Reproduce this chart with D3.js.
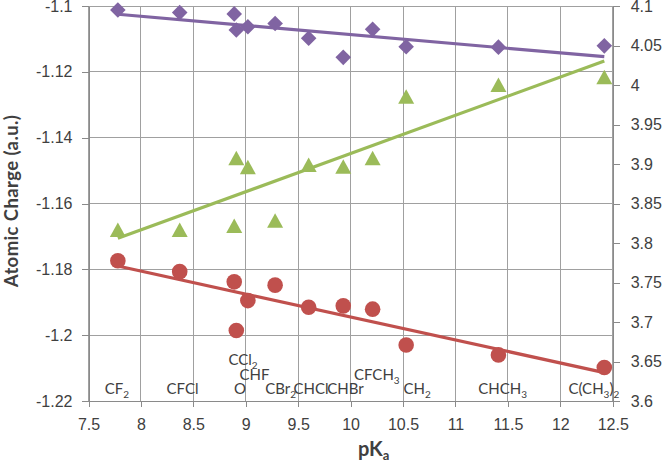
<!DOCTYPE html>
<html>
<head>
<meta charset="utf-8">
<script src="https://cdn.jsdelivr.net/npm/d3@7"></script>
<style>
  html, body { margin: 0; padding: 0; background: #fff; }
  svg { display: block; font-family: Lato, "Open Sans", sans-serif; }
</style>
</head>
<body>
<svg id="chart" width="666" height="462"></svg>
<script>
// ---- data ----
const pKa = [7.78, 8.37, 8.89, 8.91, 9.02, 9.28, 9.60, 9.93, 10.21, 10.53, 11.41, 12.42];
const purpleCharge = [-1.1012, -1.1020, -1.1024, -1.1073, -1.1063, -1.1053, -1.1098, -1.1156, -1.1071, -1.1124, -1.1125, -1.1121];
const redCharge = [-1.1774, -1.1807, -1.1838, -1.1986, -1.1895, -1.1848, -1.1915, -1.1911, -1.1921, -1.2030, -1.2060, -1.2098];
const greenValue = [3.8165, 3.8165, 3.8215, 3.9072, 3.8958, 3.8282, 3.8987, 3.8966, 3.9072, 3.9852, 4.0000, 4.0097];

const labelNames = ["CF_2", "CFCl", "CCl_2", "O", "CHF", "CBr_2", "CHCl", "CHBr", "CFCH_3", "CH_2", "CHCH_3", "C(CH_3)_2"];
const labelPKa = [7.772, 8.397, 8.974, 8.946, 9.084, 9.332, 9.623, 9.952, 10.25, 10.635, 11.45, 12.32];
const labelCharge = [-1.2179, -1.2179, -1.2091, -1.2179, -1.2135, -1.2179, -1.2179, -1.2179, -1.2135, -1.2179, -1.2179, -1.2179];

const xTicks = [7.5, 8, 8.5, 9, 9.5, 10, 10.5, 11, 11.5, 12, 12.5];
const leftTicks = [-1.22, -1.2, -1.18, -1.16, -1.14, -1.12, -1.1];
const rightTicks = [3.6, 3.65, 3.7, 3.75, 3.8, 3.85, 3.9, 3.95, 4, 4.05, 4.1];

// ---- layout ----
const L = 88.5, R = 612.7, T = 6, B = 401;
const gridColor = "#a0a0a0", axisColor = "#8a8a8a", textColor = "#404040";
const purple = "#8064A2", red = "#C0504D", green = "#9BBB59";

const svg = d3.select("#chart");
const x = d3.scaleLinear().domain([7.5, 12.5]).range([L, R]);
const yL = d3.scaleLinear().domain([-1.22, -1.1]).range([B, T]);
const yR = d3.scaleLinear().domain([3.6, 4.1]).range([B, T]);

// gridlines
const grid = svg.append("g");
grid.selectAll("line.h").data(leftTicks).join("line")
  .attr("x1", L).attr("x2", R).attr("y1", d => yL(d)).attr("y2", d => yL(d))
  .attr("stroke", gridColor).attr("stroke-width", 1).attr("shape-rendering", "crispEdges");
grid.selectAll("line.v").data(xTicks).join("line")
  .attr("x1", d => x(d)).attr("x2", d => x(d)).attr("y1", T).attr("y2", B)
  .attr("stroke", gridColor).attr("stroke-width", 1).attr("shape-rendering", "crispEdges");

function styleAxis(g) {
  g.select(".domain").attr("stroke", axisColor).attr("shape-rendering", "crispEdges");
  g.selectAll(".tick line").attr("stroke", axisColor).attr("shape-rendering", "crispEdges");
  g.selectAll(".tick text").attr("fill", textColor).attr("font-size", 16);
}

const fmt = d => String(+d.toFixed(3));
const gx = svg.append("g").attr("transform", `translate(0,${B})`)
  .call(d3.axisBottom(x).tickValues(xTicks).tickFormat(fmt).tickSizeOuter(0).tickSizeInner(6).tickPadding(12));
styleAxis(gx);
const gl = svg.append("g").attr("transform", `translate(${L},0)`)
  .call(d3.axisLeft(yL).tickValues(leftTicks).tickFormat(fmt).tickSizeOuter(0).tickSizeInner(7).tickPadding(9));
styleAxis(gl);
const gr = svg.append("g").attr("transform", `translate(${R},0)`)
  .call(d3.axisRight(yR).tickValues(rightTicks).tickFormat(fmt).tickSizeOuter(0).tickSizeInner(7).tickPadding(11));
styleAxis(gr);
svg.selectAll(".domain").attr("stroke-width", 1);

// trend lines (least squares)
function fit(xs, ys) {
  const n = xs.length, mx = d3.mean(xs), my = d3.mean(ys);
  let sxy = 0, sxx = 0;
  for (let i = 0; i < n; i++) { sxy += (xs[i] - mx) * (ys[i] - my); sxx += (xs[i] - mx) ** 2; }
  const m = sxy / sxx, b = my - m * mx;
  const x0 = d3.min(xs), x1 = d3.max(xs);
  return [[x0, m * x0 + b], [x1, m * x1 + b]];
}
const series = [
  { vals: purpleCharge, y: yL, color: purple, shape: "diamond" },
  { vals: greenValue, y: yR, color: green, shape: "triangle" },
  { vals: redCharge, y: yL, color: red, shape: "circle" }
];

const line = (ys) => d3.line().x(d => x(d[0])).y(d => ys(d[1]));
series.forEach(s => {
  svg.append("path").datum(fit(pKa, s.vals))
    .attr("d", line(s.y)).attr("stroke", s.color).attr("stroke-width", 3.2)
    .attr("fill", "none");
});

// markers
series.forEach(s => {
  const pts = pKa.map((p, i) => [x(p), s.y(s.vals[i])]);
  const g = svg.append("g").attr("fill", s.color);
  if (s.shape === "circle") {
    g.selectAll("circle").data(pts).join("circle")
      .attr("cx", d => d[0]).attr("cy", d => d[1]).attr("r", 7.8);
  } else if (s.shape === "diamond") {
    g.selectAll("path").data(pts).join("path")
      .attr("d", d => `M${d[0]},${d[1] - 7.8}L${d[0] + 7.8},${d[1]}L${d[0]},${d[1] + 7.8}L${d[0] - 7.8},${d[1]}Z`);
  } else {
    g.selectAll("path").data(pts).join("path")
      .attr("d", d => `M${d[0]},${d[1] - 7.5}L${d[0] + 8},${d[1] + 7}L${d[0] - 8},${d[1] + 7}Z`);
  }
});

// data labels with subscripts
const lab = svg.append("g").attr("fill", textColor).attr("font-size", 15).attr("text-anchor", "middle");
labelNames.forEach((name, i) => {
  const t = lab.append("text").attr("x", x(labelPKa[i])).attr("y", yL(labelCharge[i]));
  const parts = name.split(/(_\d)/).filter(p => p.length);
  let sub = false;
  parts.forEach(p => {
    if (p.startsWith("_")) {
      t.append("tspan").attr("font-size", 10).attr("dy", 4).text(p.slice(1));
      sub = true;
    } else {
      const ts = t.append("tspan").text(p);
      if (sub) { ts.attr("dy", -4); sub = false; }
    }
  });
});

// axis titles
const xt = svg.append("text").attr("x", 358).attr("y", 456)
  .attr("font-size", 20).attr("font-weight", "bold").attr("fill", textColor);
xt.append("tspan").text("pK");
xt.append("tspan").attr("font-size", 13).attr("dy", 4).text("a");

svg.append("text").attr("transform", "translate(18,201) rotate(-90)")
  .attr("text-anchor", "middle").attr("font-size", 18.5).attr("font-weight", "bold")
  .attr("letter-spacing", 0.4)
  .attr("fill", textColor).text("Atomic Charge (a.u.)");
</script>
</body>
</html>
